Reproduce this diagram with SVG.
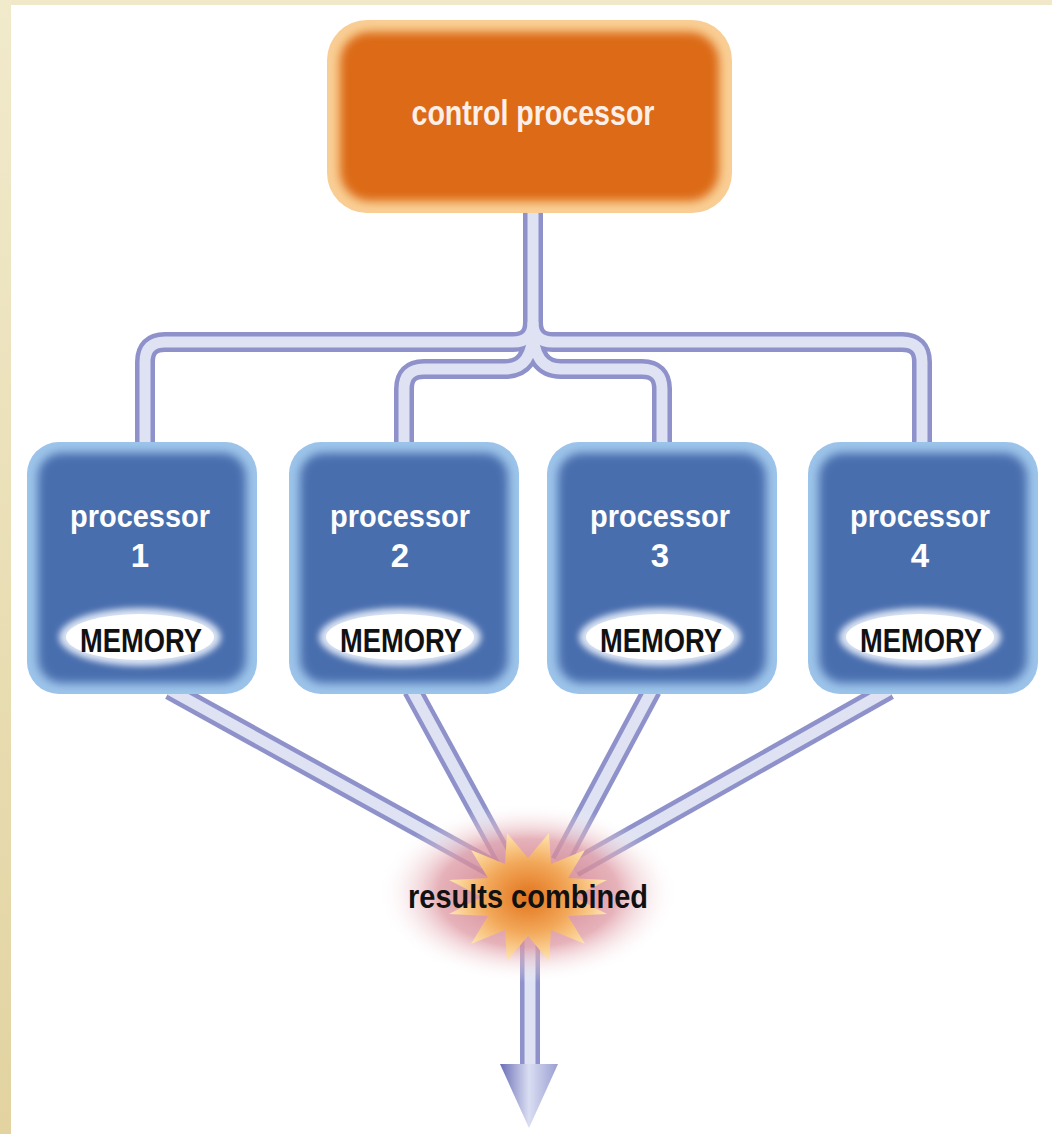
<svg xmlns="http://www.w3.org/2000/svg" width="1052" height="1134" viewBox="0 0 1052 1134">
<defs>
<style>
.tubeO{fill:none;stroke:#8E91CA;stroke-width:20;stroke-linejoin:round}
.tubeI{fill:none;stroke:#DEE2F3;stroke-width:11;stroke-linejoin:round}
.lbl{font-family:"Liberation Sans",Arial,sans-serif;font-weight:bold;text-anchor:middle}
.wt{fill:#FFFFFF}
.bk{fill:#111111}
</style>
<filter id="soft" x="-10%" y="-10%" width="120%" height="120%"><feGaussianBlur stdDeviation="5"/></filter>
<filter id="soft2" x="-20%" y="-40%" width="140%" height="180%"><feGaussianBlur stdDeviation="3"/></filter>
<linearGradient id="border" x1="0" y1="0" x2="0" y2="1"><stop offset="0" stop-color="#F1EACB"/><stop offset="1" stop-color="#E2D3A0"/></linearGradient>
<radialGradient id="glow"><stop offset="0" stop-color="#C86A7A" stop-opacity="0.95"/><stop offset="0.6" stop-color="#DE98A2" stop-opacity="0.75"/><stop offset="1" stop-color="#FFFFFF" stop-opacity="0"/></radialGradient>
<radialGradient id="star"><stop offset="0" stop-color="#E2731C"/><stop offset="0.55" stop-color="#F2A85A"/><stop offset="1" stop-color="#FEE2AC"/></radialGradient>
<linearGradient id="head" x1="0" y1="0" x2="1" y2="0"><stop offset="0" stop-color="#6A6EB6"/><stop offset="0.5" stop-color="#DADEF2"/><stop offset="1" stop-color="#9A9ED2"/></linearGradient>
</defs>
<rect x="0" y="0" width="1052" height="1134" fill="#FFFFFF"/>
<rect x="0" y="0" width="1052" height="5" fill="#F0E8C8"/>
<rect x="0" y="0" width="11" height="1134" fill="url(#border)"/>

<g id="connectors">
<g class="tubeO">
<path d="M533,205 V322 Q533,342 513,342 H165 Q145,342 145,362 V450"/>
<path d="M533,322 Q533,342 553,342 H902 Q922,342 922,362 V450"/>
<path d="M533,330 Q533,369 505,369 H424 Q404,369 404,389 V450"/>
<path d="M533,330 Q533,369 561,369 H642 Q662,369 662,389 V450"/>
<path d="M170,690 L492,868"/>
<path d="M412,690 L506,862"/>
<path d="M652,690 L560,862"/>
<path d="M889,690 L574,868"/>
<path d="M530,930 V1070"/>
</g>
<g class="tubeI">
<path d="M533,205 V322 Q533,342 513,342 H165 Q145,342 145,362 V450"/>
<path d="M533,322 Q533,342 553,342 H902 Q922,342 922,362 V450"/>
<path d="M533,330 Q533,369 505,369 H424 Q404,369 404,389 V450"/>
<path d="M533,330 Q533,369 561,369 H642 Q662,369 662,389 V450"/>
<path d="M170,690 L492,868"/>
<path d="M412,690 L506,862"/>
<path d="M652,690 L560,862"/>
<path d="M889,690 L574,868"/>
<path d="M530,930 V1070"/>
</g>
<polygon points="500,1064 558,1064 529,1128" fill="url(#head)"/>
</g>

<g id="control">
<rect x="327" y="20" width="405" height="193" rx="40" fill="#F9CE95"/>
<rect x="340" y="32" width="379" height="169" rx="30" fill="#DC6A18" filter="url(#soft)"/>
<text class="lbl" x="533" y="125" font-size="35" textLength="243" lengthAdjust="spacingAndGlyphs" fill="#FCEFE8">control processor</text>
</g>

<g id="p1">
<rect x="27" y="442" width="230" height="252" rx="32" fill="#9DC4EA"/>
<rect x="38" y="453" width="208" height="230" rx="24" fill="#4A6EAE" filter="url(#soft)"/>
<text class="lbl wt" x="140" y="527" font-size="32" textLength="140" lengthAdjust="spacingAndGlyphs">processor</text>
<text class="lbl wt" x="140" y="567" font-size="33">1</text>
<ellipse cx="140" cy="637" rx="81" ry="29" fill="#D9E3F4" filter="url(#soft2)"/>
<ellipse cx="140" cy="637" rx="74" ry="23" fill="#FFFFFF"/>
<text class="lbl bk" x="141" y="652" font-size="33" textLength="122" lengthAdjust="spacingAndGlyphs">MEMORY</text>
</g>

<g id="p2">
<rect x="289" y="442" width="230" height="252" rx="32" fill="#9DC4EA"/>
<rect x="300" y="453" width="208" height="230" rx="24" fill="#4A6EAE" filter="url(#soft)"/>
<text class="lbl wt" x="400" y="527" font-size="32" textLength="140" lengthAdjust="spacingAndGlyphs">processor</text>
<text class="lbl wt" x="400" y="567" font-size="33">2</text>
<ellipse cx="400" cy="637" rx="81" ry="29" fill="#D9E3F4" filter="url(#soft2)"/>
<ellipse cx="400" cy="637" rx="74" ry="23" fill="#FFFFFF"/>
<text class="lbl bk" x="401" y="652" font-size="33" textLength="122" lengthAdjust="spacingAndGlyphs">MEMORY</text>
</g>

<g id="p3">
<rect x="547" y="442" width="230" height="252" rx="32" fill="#9DC4EA"/>
<rect x="558" y="453" width="208" height="230" rx="24" fill="#4A6EAE" filter="url(#soft)"/>
<text class="lbl wt" x="660" y="527" font-size="32" textLength="140" lengthAdjust="spacingAndGlyphs">processor</text>
<text class="lbl wt" x="660" y="567" font-size="33">3</text>
<ellipse cx="660" cy="637" rx="81" ry="29" fill="#D9E3F4" filter="url(#soft2)"/>
<ellipse cx="660" cy="637" rx="74" ry="23" fill="#FFFFFF"/>
<text class="lbl bk" x="661" y="652" font-size="33" textLength="122" lengthAdjust="spacingAndGlyphs">MEMORY</text>
</g>

<g id="p4">
<rect x="808" y="442" width="230" height="252" rx="32" fill="#9DC4EA"/>
<rect x="819" y="453" width="208" height="230" rx="24" fill="#4A6EAE" filter="url(#soft)"/>
<text class="lbl wt" x="920" y="527" font-size="32" textLength="140" lengthAdjust="spacingAndGlyphs">processor</text>
<text class="lbl wt" x="920" y="567" font-size="33">4</text>
<ellipse cx="920" cy="637" rx="81" ry="29" fill="#D9E3F4" filter="url(#soft2)"/>
<ellipse cx="920" cy="637" rx="74" ry="23" fill="#FFFFFF"/>
<text class="lbl bk" x="921" y="652" font-size="33" textLength="122" lengthAdjust="spacingAndGlyphs">MEMORY</text>
</g>

<g id="combined">
<ellipse cx="528" cy="893" rx="150" ry="90" fill="url(#glow)"/>
<polygon fill="url(#star)" points="528,858 549,833 551,864 585,850 568,878 607,880 574,897 607,914 568,916 585,944 551,930 549,961 528,936 507,961 505,930 471,944 488,916 449,914 482,897 449,880 488,878 471,850 505,864 507,833"/>
<text class="lbl bk" x="528" y="908" font-size="33" textLength="240" lengthAdjust="spacingAndGlyphs">results combined</text>
</g>
</svg>
